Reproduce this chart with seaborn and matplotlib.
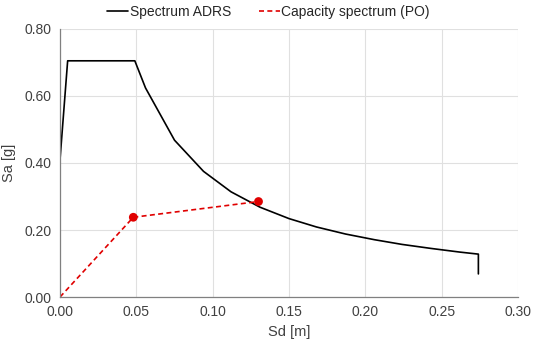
import matplotlib
matplotlib.use("Agg")
import matplotlib.pyplot as plt
import seaborn as sns
import pandas as pd

# Spectrum ADRS (Sd [m], Sa [g])
sd_adrs = [0.000, 0.005, 0.049, 0.056, 0.075, 0.094, 0.112, 0.131, 0.150, 0.168,
           0.187, 0.206, 0.224, 0.243, 0.262, 0.274, 0.274]
sa_adrs = [0.410, 0.705, 0.705, 0.624, 0.468, 0.375, 0.314, 0.268, 0.234, 0.209,
           0.188, 0.171, 0.157, 0.145, 0.134, 0.128, 0.069]

# Capacity spectrum (PO)
sd_cap = [0.000, 0.048, 0.130]
sa_cap = [0.000, 0.238, 0.285]

df_adrs = pd.DataFrame({"Sd": sd_adrs, "Sa": sa_adrs})
df_cap = pd.DataFrame({"Sd": sd_cap, "Sa": sa_cap})

sns.set_style("white")
plt.rcParams["font.family"] = ["Liberation Sans", "DejaVu Sans"]

fig = plt.figure(figsize=(5.33, 3.41), dpi=100)
ax = fig.add_axes([0.1126, 0.129, 0.8594, 0.786])

sns.lineplot(data=df_adrs, x="Sd", y="Sa", ax=ax, color="black", lw=1.2,
             sort=False, estimator=None, label="Spectrum ADRS")
sns.lineplot(data=df_cap, x="Sd", y="Sa", ax=ax, color="#e00000", lw=1.2,
             dashes=False, sort=False, estimator=None,
             label="Capacity spectrum (PO)")
ax.lines[1].set_dashes((3, 2))
sns.scatterplot(data=df_cap.iloc[1:], x="Sd", y="Sa", ax=ax, color="#e00000",
                s=40, edgecolor="none", zorder=5)

ax.set_xlim(0, 0.30)
ax.set_ylim(0, 0.80)
ax.set_xticks([0, 0.05, 0.10, 0.15, 0.20, 0.25, 0.30])
ax.set_yticks([0, 0.20, 0.40, 0.60, 0.80])
ax.set_xticklabels([f"{v:.2f}" for v in ax.get_xticks()], fontsize=10, color="#404040")
ax.set_yticklabels([f"{v:.2f}" for v in ax.get_yticks()], fontsize=10, color="#404040")
ax.tick_params(length=0, pad=6)
ax.grid(True, color="#e0e0e0", lw=0.8)
ax.set_axisbelow(True)
ax.set_xlabel("Sd [m]", fontsize=10.5, color="#404040", labelpad=4)
ax.set_ylabel("Sa [g]", fontsize=10.5, color="#404040", labelpad=6)
for s in ["top", "right"]:
    ax.spines[s].set_visible(False)
for s in ["left", "bottom"]:
    ax.spines[s].set_color("#808080")
    ax.spines[s].set_linewidth(0.9)

leg = ax.legend(loc="upper center", bbox_to_anchor=(0.455, 1.11), ncol=2, frameon=False,
                fontsize=10, handlelength=1.5, handletextpad=0.1, columnspacing=2.0,
                borderaxespad=0.0)
leg.get_lines()[1].set_dashes((3, 2))

fig.savefig("out.png", dpi=100)
